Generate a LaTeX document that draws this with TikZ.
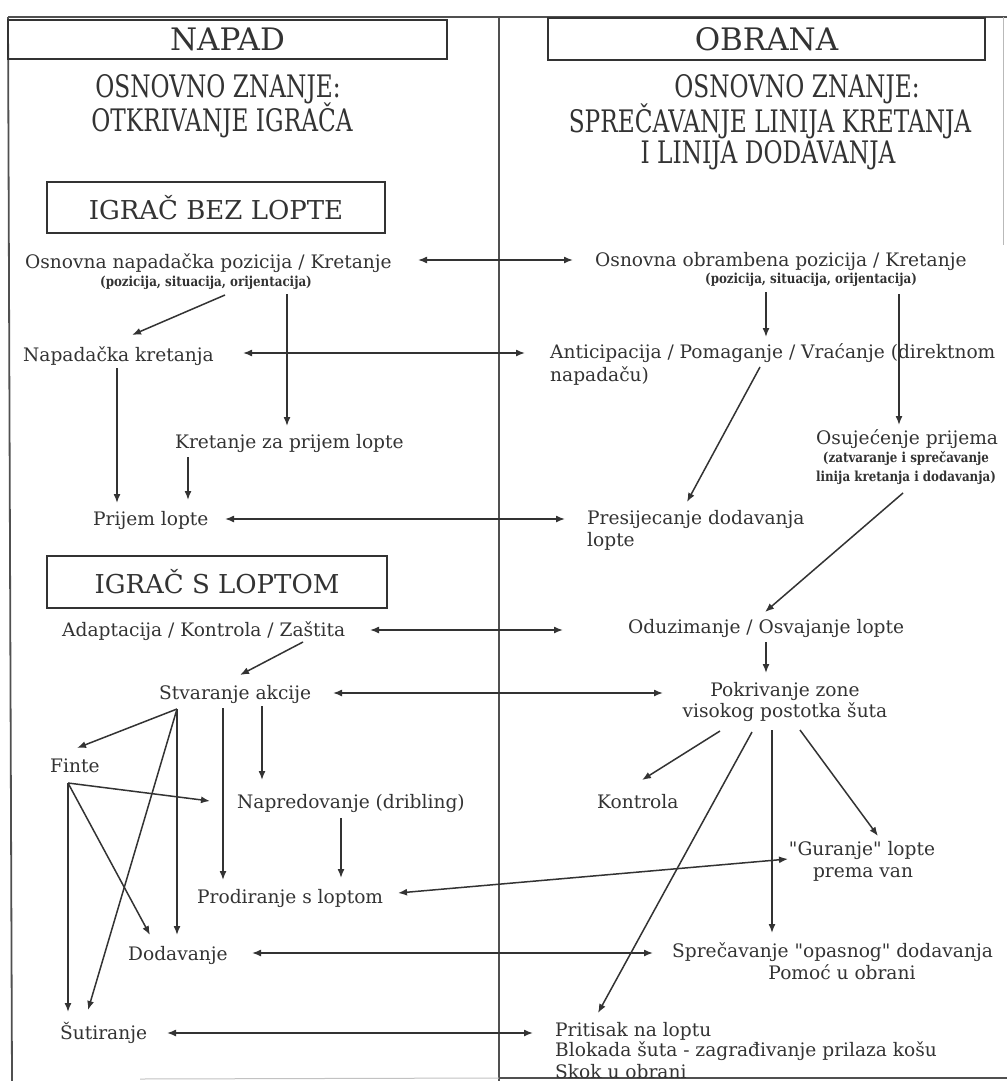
\documentclass[tikz,border=0pt]{standalone}
\usepackage{fontspec}
\setmainfont{DejaVu Serif}
\newfontfamily\headfont[FakeStretch=0.75]{DejaVu Serif}
\newfontfamily\subfont[FakeStretch=0.86]{DejaVu Serif}
\newfontfamily\qfont[Ligatures=TeXOff]{DejaVu Serif}
\usetikzlibrary{arrows.meta}
\definecolor{ink}{HTML}{333333}
\definecolor{frame}{HTML}{505050}
\newcommand{\sq}{{\qfont\char"22\relax}}
\begin{document}
\begin{tikzpicture}[x=1pt,y=-1pt,
  txt/.style={inner sep=0pt, text=ink, font=\fontsize{18.6}{22}\selectfont},
  sub/.style={inner sep=0pt, text=ink, font=\subfont\bfseries\fontsize{13.8}{15}\selectfont},
  head/.style={inner sep=0pt, text=ink, font=\headfont\fontsize{31}{31}\selectfont},
  tbox/.style={draw=ink, line width=2.4pt, inner sep=0pt, text=ink},
  arr/.style={draw=ink, line width=1.5pt, -{Latex[length=9pt,width=7pt]}},
  darr/.style={draw=ink, line width=1.5pt, {Latex[length=9pt,width=7pt]}-{Latex[length=9pt,width=7pt]}}
]
\useasboundingbox (0,0) rectangle (1007,1081);
\fill[white] (0,0) rectangle (1007,1081);

% frame
\coordinate (ftl) at (8,17);
\coordinate (ftr) at (1007,17);
\coordinate (fbl) at (12,1081);
\coordinate (mdt) at (499,17);
\coordinate (mdb) at (499,1081);
\coordinate (rtt) at (1003,17);
\coordinate (rtb) at (1003,245);
\coordinate (bl1) at (140,1079);
\coordinate (bl2) at (499,1078);
\coordinate (bl3) at (1007,1078);
\draw[frame, line width=1.8pt] (ftl) -- (ftr);
\draw[frame, line width=1.8pt] (ftl) -- (fbl);
\draw[frame, line width=1.8pt] (mdt) -- (mdb);
\draw[frame!40, line width=1pt] (rtt) -- (rtb);
\draw[frame!35, line width=1pt] (bl1) -- (bl2);
\draw[frame, line width=1.8pt] (bl2) -- (bl3);

% title boxes
\node[tbox, minimum width=439, minimum height=39, font=\fontsize{31}{31}\selectfont] (napad) at (227.5,39.5) {NAPAD};
\node[tbox, minimum width=437, minimum height=42, font=\fontsize{31}{31}\selectfont] (obrana) at (766.5,39) {OBRANA};
\node[tbox, minimum width=338, minimum height=51, font=\fontsize{26}{26}\selectfont] (bez) at (216,207.5) {IGRAČ BEZ LOPTE};
\node[tbox, minimum width=340, minimum height=52, font=\fontsize{26}{26}\selectfont] (sl) at (217,582) {IGRAČ S LOPTOM};

% headings
\node[head] (hl1) at (218,89) {OSNOVNO ZNANJE:};
\node[head] (hl2) at (222,120) {OTKRIVANJE IGRAČA};
\node[head] (hr1) at (797,89) {OSNOVNO ZNANJE:};
\node[head] (hr2) at (770,121) {SPREČAVANJE LINIJA KRETANJA};
\node[head] (hr3) at (768,155) {I LINIJA DODAVANJA};

% left column texts
\node[txt, anchor=base west] (on1) at (25,268) {Osnovna napadačka pozicija / Kretanje};
\node[sub, anchor=base] (on2) at (206,286) {(pozicija, situacija, orijentacija)};
\node[txt, anchor=base west] (nk) at (23,361) {Napadačka kretanja};
\node[txt, anchor=base west] (kz) at (175,448) {Kretanje za prijem lopte};
\node[txt, anchor=base west] (pl) at (93,525) {Prijem lopte};
\node[txt, anchor=base west] (ad) at (62,636) {Adaptacija / Kontrola / Zaštita};
\node[txt, anchor=base west] (sa) at (159,699) {Stvaranje akcije};
\node[txt, anchor=base west] (fi) at (50,772) {Finte};
\node[txt, anchor=base west] (np) at (237,808) {Napredovanje (dribling)};
\node[txt, anchor=base west] (pr) at (197,903) {Prodiranje s loptom};
\node[txt, anchor=base west] (do) at (128,960) {Dodavanje};
\node[txt, anchor=base west] (su) at (60,1039) {Šutiranje};

% right column texts
\node[txt, anchor=base west] (oo1) at (595,266) {Osnovna obrambena pozicija / Kretanje};
\node[sub, anchor=base] (oo2) at (811,283) {(pozicija, situacija, orijentacija)};
\node[txt, anchor=base west] (an1) at (550,358) {Anticipacija / Pomaganje / Vraćanje (direktnom};
\node[txt, anchor=base west] (an2) at (550,381) {napadaču)};
\node[txt, anchor=base west] (os1) at (816,444) {Osujećenje prijema};
\node[sub, anchor=base] (os2) at (906,462) {(zatvaranje i sprečavanje};
\node[sub, anchor=base] (os3) at (906,481) {linija kretanja i dodavanja)};
\node[txt, anchor=base west] (ps1) at (587,524) {Presijecanje dodavanja};
\node[txt, anchor=base west] (ps2) at (587,546) {lopte};
\node[txt, anchor=base west] (ou) at (628,633) {Oduzimanje / Osvajanje lopte};
\node[txt, anchor=base] (pk1) at (785,696) {Pokrivanje zone};
\node[txt, anchor=base] (pk2) at (785,717) {visokog postotka šuta};
\node[txt, anchor=base west] (ko) at (597,808) {Kontrola};
\node[txt, anchor=base] (gu1) at (862,855) {\sq Guranje\sq{} lopte};
\node[txt, anchor=base] (gu2) at (863,877) {prema van};
\node[txt, anchor=base west] (sp1) at (672,957) {Sprečavanje \sq opasnog\sq{} dodavanja};
\node[txt, anchor=base] (sp2) at (842,979) {Pomoć u obrani};
\node[txt, anchor=base west] (pt1) at (555,1036) {Pritisak na loptu};
\node[txt, anchor=base west] (pt2) at (555,1056) {Blokada šuta - zagrađivanje prilaza košu};
\node[txt, anchor=base west] (pt3) at (555,1078) {Skok u obrani};

% connector points
\coordinate (a1l) at (418,260); \coordinate (a1r) at (573,260);
\coordinate (a2l) at (243,353); \coordinate (a2r) at (525,353);
\coordinate (a3l) at (225,519); \coordinate (a3r) at (565,519);
\coordinate (a4l) at (370,630); \coordinate (a4r) at (563,630);
\coordinate (a5l) at (333,693); \coordinate (a5r) at (663,693);
\coordinate (a6l) at (398,893); \coordinate (a6r) at (788,859);
\coordinate (a7l) at (252,953); \coordinate (a7r) at (653,953);
\coordinate (a8l) at (167,1033); \coordinate (a8r) at (533,1033);

\coordinate (onA) at (225,295); \coordinate (nkT) at (132,335);
\coordinate (onB) at (287,294); \coordinate (kzT) at (287,426);
\coordinate (ooA) at (766,292); \coordinate (anT) at (766,337);
\coordinate (ooB) at (899,294); \coordinate (osT) at (899,425);
\coordinate (nkB) at (117,368); \coordinate (plT1) at (117,503);
\coordinate (kzB) at (188,457); \coordinate (plT2) at (188,500);
\coordinate (anB) at (760,367); \coordinate (psT) at (687,502);
\coordinate (osB) at (903,493); \coordinate (ouT) at (765,612);
\coordinate (adB) at (303,642); \coordinate (saT) at (240,675);
\coordinate (ouB) at (766,642); \coordinate (pkT) at (766,673);
\coordinate (saO) at (177,709);
\coordinate (fiT) at (77,748);
\coordinate (suT2) at (88,1010);
\coordinate (doT2) at (177,935);
\coordinate (saB1) at (223,708); \coordinate (prT1) at (223,880);
\coordinate (saB2) at (262,706); \coordinate (npT) at (262,780);
\coordinate (fiO) at (68,783);
\coordinate (npL) at (210,801);
\coordinate (suT1) at (68,1012);
\coordinate (doT1) at (150,935);
\coordinate (npB) at (341,818); \coordinate (prT2) at (341,878);
\coordinate (pkB1) at (720,731); \coordinate (koT) at (642,780);
\coordinate (pkB2) at (752,732); \coordinate (ptT) at (598,1013);
\coordinate (pkB3) at (772,730); \coordinate (spT) at (772,933);
\coordinate (pkB4) at (800,730); \coordinate (guT) at (878,836);

% double arrows between columns
\draw[darr] (a1l) -- (a1r);
\draw[darr] (a2l) -- (a2r);
\draw[darr] (a3l) -- (a3r);
\draw[darr] (a4l) -- (a4r);
\draw[darr] (a5l) -- (a5r);
\draw[darr] (a6l) -- (a6r);
\draw[darr] (a7l) -- (a7r);
\draw[darr] (a8l) -- (a8r);

% single arrows
\draw[arr] (onA) -- (nkT);
\draw[arr] (onB) -- (kzT);
\draw[arr] (ooA) -- (anT);
\draw[arr] (ooB) -- (osT);
\draw[arr] (nkB) -- (plT1);
\draw[arr] (kzB) -- (plT2);
\draw[arr] (anB) -- (psT);
\draw[arr] (osB) -- (ouT);
\draw[arr] (adB) -- (saT);
\draw[arr] (ouB) -- (pkT);
\draw[arr] (saO) -- (fiT);
\draw[arr] (saO) -- (suT2);
\draw[arr] (saO) -- (doT2);
\draw[arr] (saB1) -- (prT1);
\draw[arr] (saB2) -- (npT);
\draw[arr] (fiO) -- (npL);
\draw[arr] (fiO) -- (suT1);
\draw[arr] (fiO) -- (doT1);
\draw[arr] (npB) -- (prT2);
\draw[arr] (pkB1) -- (koT);
\draw[arr] (pkB2) -- (ptT);
\draw[arr] (pkB3) -- (spT);
\draw[arr] (pkB4) -- (guT);
\end{tikzpicture}
\end{document}
